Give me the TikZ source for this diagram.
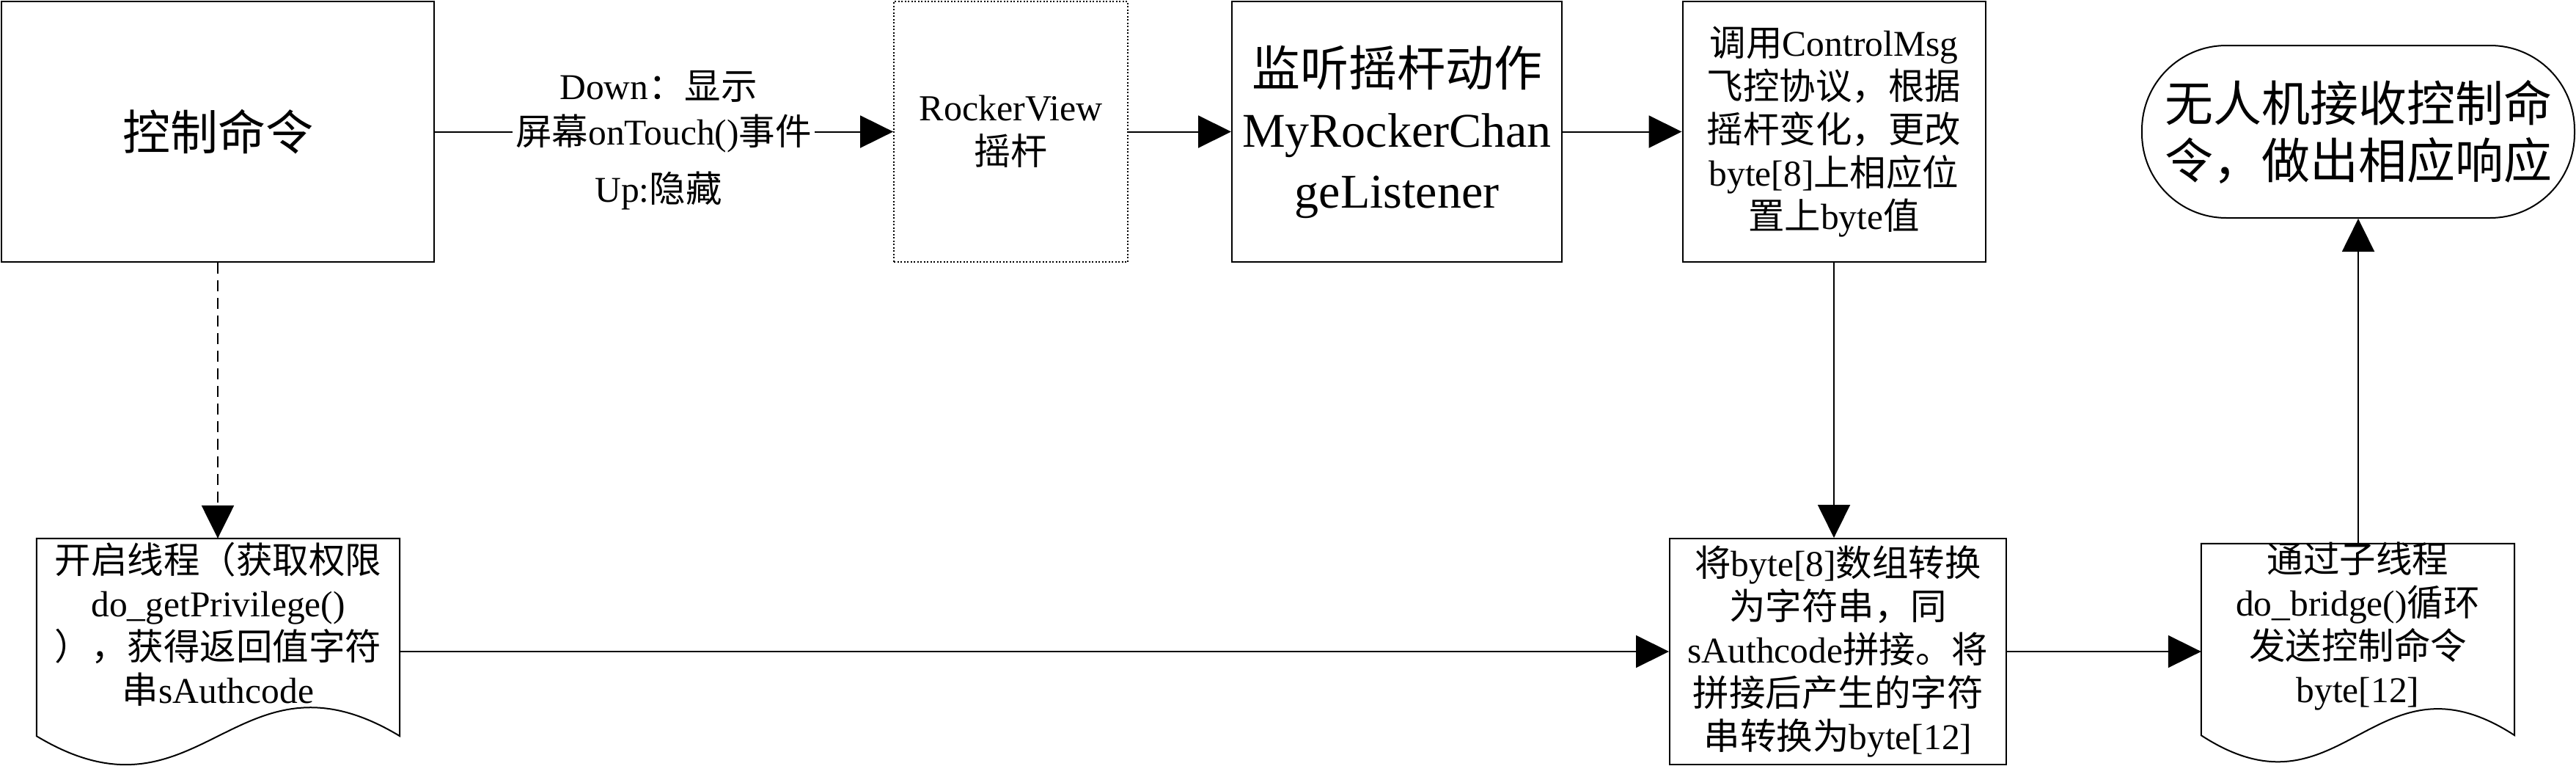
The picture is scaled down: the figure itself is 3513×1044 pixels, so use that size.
\documentclass[tikz,border=0pt]{standalone}
\usepackage{fontspec}
\setmainfont{Noto Sans CJK SC}
\newfontfamily\enfont{Liberation Serif}
\newcommand\en[1]{{\enfont #1}}
\usetikzlibrary{arrows.meta}
\begin{document}
\begin{tikzpicture}[x=1pt,y=-1pt,
  box/.style={draw, line width=2pt, rectangle, inner sep=0pt, align=center},
  dotbox/.style={dash pattern=on 2pt off 2.5pt, line width=1.8pt},
  bigfont/.style={font={\fontsize{66}{83}\selectfont}},
  smallfont/.style={font={\fontsize{49.5}{59}\selectfont}},
  frame/.style={inner sep=0pt, rectangle},
  doctext/.style={smallfont, align=center, inner sep=0pt},
  arr/.style={line width=2pt, -{Triangle[length=45pt,width=44pt]}},
  dasharr/.style={line width=2.5pt, dash pattern=on 15pt off 9pt, -{Triangle[length=45pt,width=44pt]}},
  docline/.style={line width=2pt, line join=miter}]
\useasboundingbox (0,0) rectangle (3513,1044);

% top row
\node[box, font={\fontsize{65}{80}\selectfont}, minimum width=590pt, minimum height=355pt] (b1) at (297,179.5) {控制命令};
\node[box, dotbox, font={\fontsize{50}{60}\selectfont}, minimum width=319pt, minimum height=355pt] (b2) at (1378.5,179.5) {\en{RockerView}\\摇杆};
\node[box, bigfont, minimum width=450pt, minimum height=355pt] (b3) at (1905,179.5) {监听摇杆动作\\\en{MyRockerChan}\\\en{geListener}};
\node[box, smallfont, minimum width=413pt, minimum height=355pt] (b4) at (2501,179.5) {调用\en{ControlMsg}\\飞控协议，根据\\摇杆变化，更改\\\en{byte[8]}上相应位\\置上\en{byte}值};
\node[box, font={\fontsize{66}{78}\selectfont}, rounded corners=115pt, minimum width=590pt, minimum height=235pt] (t) at (3216,179.5) {无人机接收控制命\\令，做出相应响应};

% bottom row
\node[box, smallfont, minimum width=459pt, minimum height=308pt] (b5) at (2506.5,888) {将\en{byte[8]}数组转换\\为字符串，同\\\en{sAuthcode}拼接。将\\拼接后产生的字符\\串转换为\en{byte[12]}};

\node[frame, minimum width=495pt, minimum height=269pt] (d1) at (297.5,868.5) {};
\draw[docline] (d1.south west) -- (d1.north west) -- (d1.north east) -- (d1.south east)
  .. controls +(-224,-135) and +(224,135) .. (d1.south west) -- cycle;
\node[doctext] (t1) at (297.5,851) {开启线程（获取权限\\\en{do\_getPrivilege()}\\），获得返回值字符\\串\en{sAuthcode}};

\node[frame, minimum width=427pt, minimum height=261pt] (d2) at (3215.5,871.5) {};
\draw[docline] (d2.south west) -- (d2.north west) -- (d2.north east) -- (d2.south east)
  .. controls +(-192,-125) and +(192,125) .. (d2.south west) -- cycle;
\node[doctext] (t2) at (3215.5,853) {通过子线程\\\en{do\_bridge()}循环\\发送控制命令\\\en{byte[12]}};

% connectors
\draw[arr] (b1.east) -- (b2.west);
\node[smallfont, fill=white, inner xsep=4pt, inner ysep=0pt] (l2) at (905,182) {屏幕\en{onTouch()}事件};
\node[smallfont, inner sep=0pt] (l1) at (898,118) {\en{Down}：显示};
\node[smallfont, inner sep=0pt] (l3) at (898,260) {\en{Up:}隐藏};
\draw[arr] (b2.east) -- (b3.west);
\draw[arr] (b3.east) -- (b4.west);
\draw[arr] (b4.south) -- (b4.south |- b5.north);
\draw[arr] (d1.east |- b5.west) -- (b5.west);
\draw[arr] (b5.east) -- (b5.east -| d2.west);
\draw[arr] (t.south |- d2.north) -- (t.south);
\draw[dasharr] (b1.south) -- (b1.south |- d1.north);
\end{tikzpicture}
\end{document}
